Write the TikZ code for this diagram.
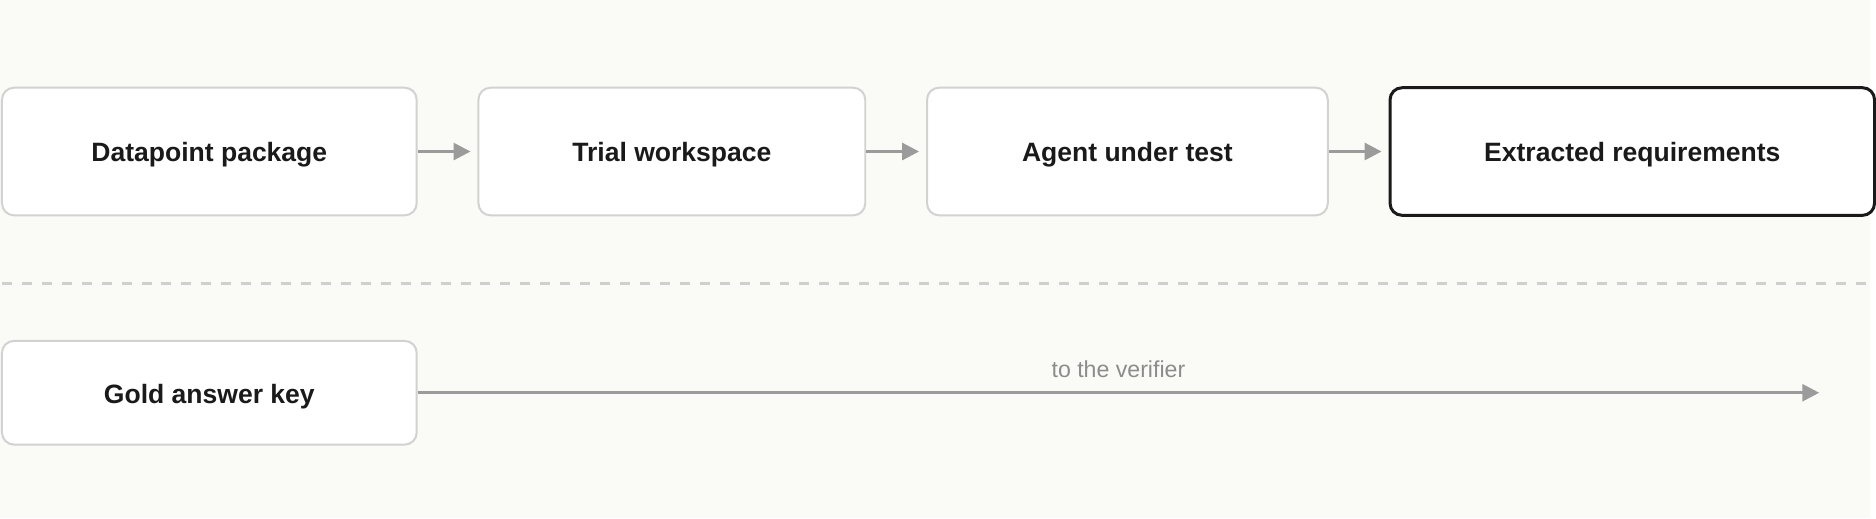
\documentclass[tikz,border=0pt]{standalone}
\usepackage{fontspec}
\setmainfont{Liberation Sans}
\usetikzlibrary{positioning,arrows.meta}
\definecolor{paper}{HTML}{FAFAF6}
\definecolor{rim}{HTML}{D2D2D2}
\definecolor{ink}{HTML}{1A1A1A}
\definecolor{wire}{HTML}{9B9B9B}
\definecolor{sepgray}{HTML}{CFCFCF}
\definecolor{note}{HTML}{8C8C8C}

\begin{document}
\begin{tikzpicture}[
        stage/.style={rectangle, rounded corners=6pt, draw=rim, fill=white, line width=1pt, minimum height=64pt, text height=10.5pt, text depth=0pt, font=\fontsize{13.3}{16}\selectfont\bfseries, text=ink},
        result/.style={stage, draw=ink, line width=1.5pt},
        flow/.style={-{Triangle[length=8.5pt,width=8.5pt]}, line width=1.5pt, draw=wire, shorten >=3.5pt},
        separator/.style={draw=sepgray, line width=1.5pt, dash pattern=on 5pt off 5pt},
    ]
    \fill[paper] (0,0) rectangle (938pt,-260pt);

    \node[stage, minimum width=208pt] (Package) at (105pt,-76pt) {Datapoint package};
    \node[stage, minimum width=194pt] (Workspace) [right=30pt of Package] {Trial workspace};
    \node[stage, minimum width=201pt] (Agent) [right=30pt of Workspace] {Agent under test};
    \node[result, minimum width=243pt] (Requirements) [right=30pt of Agent] {Extracted requirements};

    \coordinate (SepLeft) at (1pt,-142pt);
    \coordinate (SepRight) at (938pt,-142pt);
    \draw[separator] (SepLeft) -- (SepRight);

    \node[stage, minimum width=208pt, minimum height=52pt] (Gold) [below=62pt of Package] {Gold answer key};
    \coordinate[right=703pt of Gold.east] (Verifier);

    \path (Package.east) edge[flow] (Workspace.west);
    \path (Workspace.east) edge[flow] (Agent.west);
    \path (Agent.east) edge[flow] (Requirements.west);
    \path (Gold.east) edge[flow, shorten >=0pt] node[above=3.5pt, font=\fontsize{11.6}{14}\selectfont, text=note] {to the verifier} (Verifier);
\end{tikzpicture}
\end{document}
